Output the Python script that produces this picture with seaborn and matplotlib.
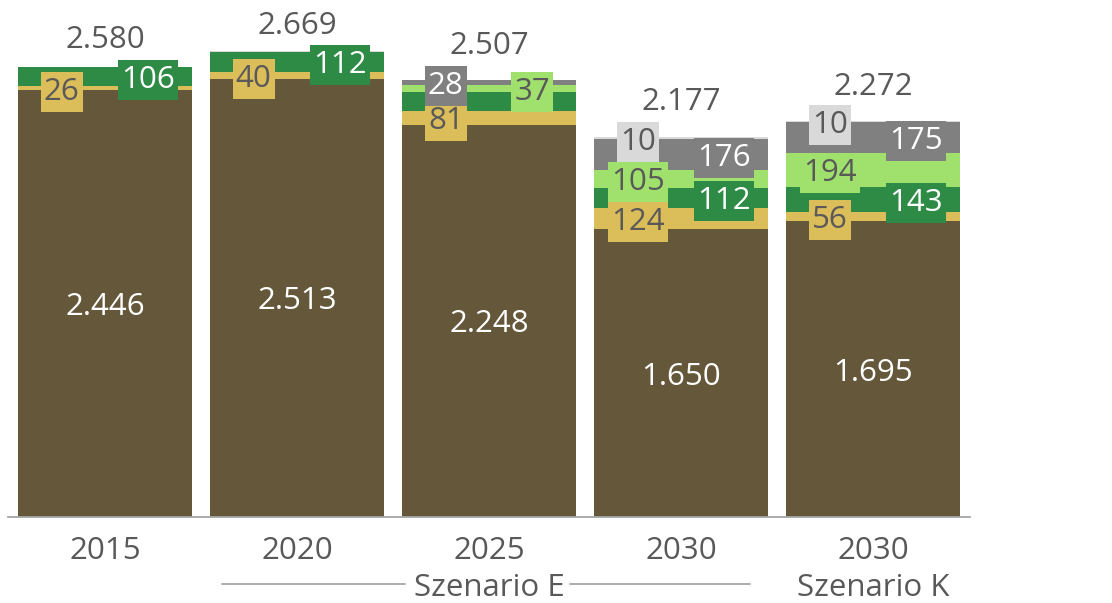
import matplotlib
matplotlib.use('Agg')
import matplotlib.pyplot as plt
import matplotlib.transforms as mtransforms
from matplotlib.path import Path
import numpy as np
import pandas as pd
import seaborn as sns

# --- Daten ---
kategorien = ['2015', '2020', '2025', '2030 E', '2030 K']
tick_labels = ['2015', '2020', '2025', '2030', '2030']
braun = [2446, 2513, 2248, 1650, 1695]
gelb = [26, 40, 81, 124, 56]
dunkelgruen = [106, 112, 109, 112, 143]
hellgruen = [0, 0, 37, 105, 194]
grau = [0, 0, 28, 176, 175]
hellgrau = [2, 4, 4, 10, 10]
gesamt = [2580, 2669, 2507, 2177, 2272]

# --- Stil ---
sns.set_style('white')
plt.rcParams['font.family'] = ['Open Sans', 'DejaVu Sans']
TXT = '#595959'
FS = 22.5

schichten = [
    # name, werte, farbe, textfarbe, seite je balken (L/R/None)
    ('braun', braun, '#65573a', 'white', ['C'] * 5),
    ('gelb', gelb, '#dbbd5a', TXT, ['L', 'L', 'L', 'L', 'L']),
    ('dunkelgruen', dunkelgruen, '#2e8b45', 'white', ['R', 'R', None, 'R', 'R']),
    ('hellgruen', hellgruen, '#a0e06c', TXT, [None, None, 'R', 'L', 'L']),
    ('grau', grau, '#808080', 'white', [None, None, 'L', 'R', 'R']),
    ('hellgrau', hellgrau, '#d9d9d9', TXT, [None, None, None, 'L', 'L']),
]
x_off = {'L': -0.225, 'R': 0.225, 'C': 0.0}
total_pad = [30, 29, 37, 39, 37]  # px oberhalb des Balkens


def fmt(v):
    return f'{v:,}'.replace(',', '.')


def kasten(x0, y0, width, height, mutation_size):
    # rechteckiger Hintergrund mit mehr Rand oben/unten als links/rechts
    px = 0.1 * mutation_size
    py = 0.16 * mutation_size
    x0, y0 = x0 - px, y0 - py
    x1, y1 = x0 + width + 2 * px, y0 + height + 2 * py
    return Path([(x0, y0), (x1, y0), (x1, y1), (x0, y1), (x0, y0)],
                closed=True)


fig = plt.figure(figsize=(11.12, 6.03), dpi=100)
ax = fig.add_axes([8 / 1112, 86 / 603, 962 / 1112, 517 / 603])

# kumulierte Summen, von oben nach unten zeichnen
kum = np.cumsum(np.array([s[1] for s in schichten]), axis=0)
for i in range(len(schichten) - 1, -1, -1):
    df = pd.DataFrame({'kat': kategorien, 'wert': kum[i]})
    sns.barplot(data=df, x='kat', y='wert', color=schichten[i][2], saturation=1,
                width=0.906, linewidth=0, ax=ax)

ax.set_xlim(-0.505, 4.505)
ax.set_ylim(0, 2964)

# Beschriftungen in den Segmenten
for i, (name, werte, farbe, tfarbe, seiten) in enumerate(schichten):
    unten = kum[i] - np.array(werte)
    for j, v in enumerate(werte):
        seite = seiten[j]
        if seite is None or v == 0:
            continue
        y = unten[j] + v / 2
        if seite == 'C':
            ax.text(j, y, fmt(v), ha='center', va='center_baseline', fontsize=FS, color=tfarbe)
        else:
            ax.text(j + x_off[seite], y, fmt(v), ha='center', va='center_baseline',
                    fontsize=FS, color=tfarbe,
                    bbox=dict(boxstyle=kasten, fc=farbe, ec='none'))

# Summen
for j, t in enumerate(gesamt):
    ax.annotate(fmt(t), (j, t), xytext=(0, total_pad[j] * 0.72), textcoords='offset points',
                ha='center', va='center_baseline', fontsize=FS, color=TXT)

# Achsen
ax.set_xlabel('')
ax.set_ylabel('')
ax.set_yticks([])
ax.set_xticks(range(len(kategorien)))
ax.set_xticklabels(tick_labels)
ax.tick_params(axis='x', length=0, pad=14, labelsize=FS, labelcolor=TXT)
for s in ['top', 'right', 'left']:
    ax.spines[s].set_visible(False)
ax.spines['bottom'].set_color('#a6a6a6')
ax.spines['bottom'].set_linewidth(1.3)

# Szenario-Beschriftungen
trans = mtransforms.blended_transform_factory(ax.transData, ax.transAxes)
y_sz = -67 / 517
ax.text(2, y_sz, 'Szenario E', transform=trans, ha='center', va='center_baseline',
        fontsize=FS, color=TXT, clip_on=False)
ax.text(4, y_sz, 'Szenario K', transform=trans, ha='center', va='center_baseline',
        fontsize=FS, color=TXT, clip_on=False)
for x0, x1 in [(0.609, 1.563), (2.422, 3.36)]:
    ax.plot([x0, x1], [y_sz, y_sz], transform=trans, color='#a6a6a6', lw=1.3, clip_on=False)

fig.savefig('out.png', dpi=100)
plt.close(fig)
